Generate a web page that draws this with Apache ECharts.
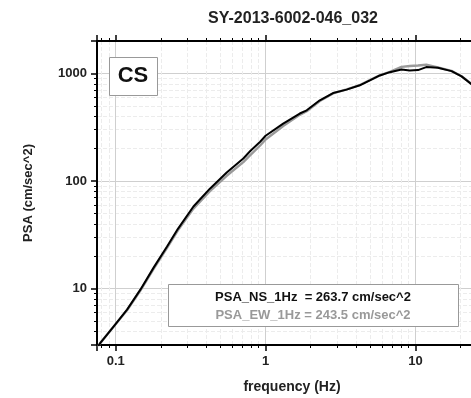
<!DOCTYPE html>
<html>
<head>
<meta charset="utf-8">
<script src="https://cdn.jsdelivr.net/npm/echarts@6/dist/echarts.min.js"></script>
<style>
  html, body { margin: 0; padding: 0; background: #fff; }
  #chart { width: 471px; height: 398px; }
</style>
</head>
<body>
<div id="chart"></div>
<script>
// 数据
var chartTitle = 'SY-2013-6002-046_032';
var freq = [0.075, 0.079, 0.097, 0.119, 0.146, 0.179, 0.22, 0.26, 0.33, 0.425, 0.55, 0.71, 0.79, 0.92, 1.0,
  1.31, 1.69, 1.88, 2.3, 2.82, 3.47, 4.25, 4.96, 5.78, 6.74, 8.07, 9.16, 10.4, 11.8, 14.1, 17.4, 20.3, 23.4, 30];
var psaNS = [2.8, 3.14, 4.48, 6.4, 9.8, 15.7, 24.7, 36, 58, 85, 120, 162, 190, 232, 263.7,
  342, 424, 454, 563, 657, 707, 775, 861, 957, 1027, 1089, 1066, 1074, 1145, 1129, 1050, 938, 803, 560];
var psaEW = [2.8, 3.14, 4.45, 6.3, 9.6, 15.3, 24.0, 34.8, 55.5, 80.5, 112, 150, 174, 214, 243.5,
  325, 412, 445, 555, 652, 712, 780, 865, 960, 1035, 1150, 1170, 1185, 1205, 1137, 1055, 940, 808, 565];
var psaNS1Hz = 263.7;
var psaEW1Hz = 243.5;
var siteClass = 'CS';

var myChart = echarts.init(document.getElementById('chart'));

function toPairs(xs, ys) {
  return xs.map(function (x, i) { return [x, ys[i]]; });
}

var axisCommon = {
  axisLine: { lineStyle: { color: '#000', width: 2 } },
  axisTick: { inside: false, length: 6, lineStyle: { color: '#000', width: 1.5 } },
  minorTick: { show: true, splitNumber: 9, length: 3, lineStyle: { color: '#000', width: 1 } },
  splitLine: { show: true, lineStyle: { color: '#cfcfcf', width: 1 } },
  minorSplitLine: { show: true, lineStyle: { color: '#ececec', width: 1, type: 'dashed' } }
};

var labelStyle = {
  margin: 10, showMinLabel: false, showMaxLabel: false,
  fontFamily: 'Liberation Sans', fontWeight: 'bold', fontSize: 13, color: '#222',
  formatter: function (v) { return String(v); }
};

var option = {
  animation: false,
  title: {
    text: chartTitle,
    left: 288,
    top: 6,
    textAlign: 'center',
    textStyle: { fontFamily: 'Liberation Sans', fontWeight: 'bold', fontSize: 16, color: '#222' }
  },
  grid: { left: 97, top: 41, width: 390, height: 304, outerBoundsMode: 'none' },
  xAxis: [
    Object.assign({}, axisCommon, {
      type: 'log',
      logBase: 10,
      min: 0.075,
      max: 30,
      position: 'bottom',
      name: 'frequency (Hz)',
      nameLocation: 'middle',
      nameGap: 35,
      nameTextStyle: { fontFamily: 'Liberation Sans', fontWeight: 'bold', fontSize: 14, color: '#222' },
      axisLabel: labelStyle
    }),
    Object.assign({}, axisCommon, {
      type: 'log',
      logBase: 10,
      min: 0.075,
      max: 30,
      position: 'top',
      splitLine: { show: false },
      minorSplitLine: { show: false },
      axisLabel: { show: false }
    })
  ],
  yAxis: [
    Object.assign({}, axisCommon, {
      type: 'log',
      logBase: 10,
      min: 3,
      max: 2000,
      name: 'PSA (cm/sec^2)',
      nameLocation: 'middle',
      nameGap: 62,
      nameTextStyle: { fontFamily: 'Liberation Sans', fontWeight: 'bold', fontSize: 13, color: '#222' },
      axisLabel: labelStyle
    })
  ],
  graphic: [
    {
      type: 'rect',
      shape: { x: 109.5, y: 57.5, width: 48, height: 38 },
      style: { fill: '#fff', stroke: '#999', lineWidth: 1 },
      z: 100
    },
    {
      type: 'text',
      x: 133, y: 76,
      style: {
        text: siteClass, fill: '#111', align: 'center', verticalAlign: 'middle',
        font: 'bold 22px "Liberation Sans"'
      },
      z: 101
    },
    {
      type: 'rect',
      shape: { x: 168.5, y: 284.5, width: 290, height: 42 },
      style: { fill: '#fff', stroke: '#999', lineWidth: 1 },
      z: 100
    },
    {
      type: 'text',
      x: 313, y: 297,
      style: {
        text: 'PSA_NS_1Hz  = ' + psaNS1Hz.toFixed(1) + ' cm/sec^2', fill: '#111',
        align: 'center', verticalAlign: 'middle', font: 'bold 13px "Liberation Sans"'
      },
      z: 101
    },
    {
      type: 'text',
      x: 313, y: 315,
      style: {
        text: 'PSA_EW_1Hz = ' + psaEW1Hz.toFixed(1) + ' cm/sec^2', fill: '#999',
        align: 'center', verticalAlign: 'middle', font: 'bold 13px "Liberation Sans"'
      },
      z: 101
    }
  ],
  series: [
    {
      name: 'EW',
      type: 'line',
      xAxisIndex: 0,
      showSymbol: false,
      lineStyle: { color: '#9a9a9a', width: 2.4 },
      data: toPairs(freq, psaEW),
      z: 3
    },
    {
      name: 'NS',
      type: 'line',
      xAxisIndex: 0,
      showSymbol: false,
      lineStyle: { color: '#000', width: 2 },
      data: toPairs(freq, psaNS),
      z: 4
    }
  ]
};

myChart.setOption(option);
</script>
</body>
</html>
